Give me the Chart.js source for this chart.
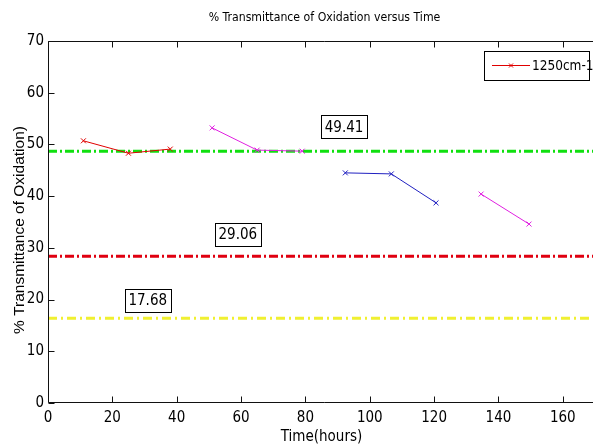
<!DOCTYPE html>
<html><head><meta charset="utf-8">
<script src="https://cdn.jsdelivr.net/npm/chart.js@4.4.1/dist/chart.umd.min.js"></script>
<style>html,body{margin:0;padding:0;overflow:hidden;background:#fff;width:593px;height:448px}
#c{position:absolute;left:0;top:0}</style></head>
<body><canvas id="c" width="600" height="448"></canvas>
<script>
const NARROW = "'Liberation Sans Narrow','DejaVu Sans Condensed',sans-serif";
const REGULAR = "'Liberation Sans',Arial,sans-serif";

const chartTitle = "% Transmittance of Oxidation versus Time";
const xTitle = "Time(hours)";
const yTitle = "% Transmittance of Oxidation)";
const xTicks = [0, 20, 40, 60, 80, 100, 120, 140, 160];
const yTicks = [0, 10, 20, 30, 40, 50, 60, 70];
const legendLabel = "1250cm-1";

const s1x = [11, 25, 38];           const s1y = [50.7, 48.3, 49.1];
const s2x = [51, 65, 79];           const s2y = [53.2, 48.9, 48.7];
const s3x = [92.4, 106.7, 120.6];   const s3y = [44.5, 44.3, 38.7];
const s4x = [134.6, 149.5];         const s4y = [40.4, 34.6];

const refLevels = [48.7, 28.4, 16.4];
const refLabels = ["49.41", "29.06", "17.68"];
const refLabelX = [92, 59, 31];
const refLabelY = [53.4, 32.6, 19.8];

const pts = (xs, ys) => xs.map((v, i) => ({x: v, y: ys[i]}));
const refPts = v => [{x: 0, y: v}, {x: 170, y: v}];

function series(label, xs, ys, color) {
  return {label, data: pts(xs, ys), showLine: true, borderColor: color, backgroundColor: color,
    borderWidth: 1, pointStyle: 'crossRot', pointRadius: 3.5, pointBorderWidth: 1, pointBorderColor: color};
}
function refLine(v, color, dash) {
  return {label: 'ref', data: refPts(v), showLine: true, borderColor: color, borderWidth: 3,
    borderDash: dash, pointRadius: 0};
}

const deco = {
  id: 'deco',
  afterDraw(chart) {
    const {ctx, chartArea: a, scales: {x, y}} = chart;
    ctx.save();
    ctx.strokeStyle = '#111'; ctx.lineWidth = 1;
    const L = Math.round(a.left) + 0.5, T = Math.round(a.top) + 0.5, B = Math.round(a.bottom) - 0.5, R = a.right + 10;
    ctx.beginPath();
    ctx.moveTo(R, T); ctx.lineTo(L, T); ctx.lineTo(L, B); ctx.lineTo(R, B);
    xTicks.forEach(v => { const px = Math.round(x.getPixelForValue(v)) + 0.5;
      ctx.moveTo(px, B); ctx.lineTo(px, B - 6); ctx.moveTo(px, T); ctx.lineTo(px, T + 6); });
    yTicks.forEach(v => { const py = Math.round(y.getPixelForValue(v)) + 0.5;
      ctx.moveTo(L, py); ctx.lineTo(L + 6, py); });
    ctx.stroke();

    // title
    ctx.fillStyle = '#000';
    ctx.font = "12.2px " + NARROW;
    ctx.textAlign = 'center'; ctx.textBaseline = 'middle';
    ctx.fillText(chartTitle, (a.left + a.right) / 2 + 3, 18);

    // y-axis title
    ctx.save();
    ctx.translate(20, 230);
    ctx.rotate(-Math.PI / 2);
    ctx.font = "15.5px " + REGULAR;
    ctx.fillText(yTitle, 0, 0);
    ctx.restore();

    // reference value boxes
    ctx.font = "15px " + NARROW;
    refLabels.forEach((t, i) => {
      const cx = x.getPixelForValue(refLabelX[i]), cy = y.getPixelForValue(refLabelY[i]);
      const w = 46, h = 23;
      ctx.fillStyle = '#fff';
      ctx.fillRect(Math.round(cx - w / 2), Math.round(cy - h / 2), w, h);
      ctx.strokeStyle = '#000';
      ctx.strokeRect(Math.round(cx - w / 2) + 0.5, Math.round(cy - h / 2) + 0.5, w, h);
      ctx.fillStyle = '#000';
      ctx.textAlign = 'center'; ctx.textBaseline = 'middle';
      ctx.fillText(t, cx, cy + 1);
    });

    // legend
    ctx.fillStyle = '#fff';
    ctx.fillRect(484, 51, 105, 29);
    ctx.strokeStyle = '#000';
    ctx.strokeRect(484.5, 51.5, 105, 29);
    ctx.strokeStyle = '#e00000';
    ctx.beginPath(); ctx.moveTo(492, 65.5); ctx.lineTo(530, 65.5);
    ctx.moveTo(509, 63.5); ctx.lineTo(513, 67.5); ctx.moveTo(513, 63.5); ctx.lineTo(509, 67.5);
    ctx.stroke();
    ctx.fillStyle = '#000';
    ctx.textAlign = 'left'; ctx.textBaseline = 'middle';
    ctx.font = "13.5px " + NARROW;
    ctx.fillText(legendLabel, 532, 66);
    ctx.restore();
  }
};

new Chart(document.getElementById('c'), {
  type: 'scatter',
  data: {
    datasets: [
      series(legendLabel, s1x, s1y, '#e00000'),
      series('s2', s2x, s2y, '#e020e0'),
      series('s3', s3x, s3y, '#2020c0'),
      series('s4', s4x, s4y, '#e020e0'),
      refLine(refLevels[0], '#10e010', [9, 3, 2, 3]),
      refLine(refLevels[1], '#e00010', [9, 3, 2, 3]),
      refLine(refLevels[2], '#f0f030', [9, 4, 2, 4])
    ]
  },
  options: {
    responsive: false, animation: false, devicePixelRatio: 1,
    layout: {padding: {top: 41, right: 4, left: 0, bottom: 0}},
    plugins: {legend: {display: false}, title: {display: false}, tooltip: {enabled: false}},
    scales: {
      x: {
        type: 'linear', min: 0, max: 170,
        afterBuildTicks: s => { s.ticks = xTicks.map(v => ({value: v})); },
        afterFit: s => { s.height = 45; },
        grid: {display: false, drawTicks: false}, border: {display: false},
        ticks: {padding: 6, color: '#000', maxRotation: 0, font: {family: NARROW, size: 15}},
        title: {display: true, text: xTitle, color: '#000', font: {family: NARROW, size: 15}, padding: {top: 0, bottom: 2}}
      },
      y: {
        type: 'linear', min: 0, max: 70,
        afterBuildTicks: s => { s.ticks = yTicks.map(v => ({value: v})); },
        afterFit: s => { s.width = 48; },
        grid: {display: false, drawTicks: false}, border: {display: false},
        ticks: {padding: 4, color: '#000', font: {family: NARROW, size: 15}},
        title: {display: false}
      }
    }
  },
  plugins: [deco]
});
</script>
</body></html>
